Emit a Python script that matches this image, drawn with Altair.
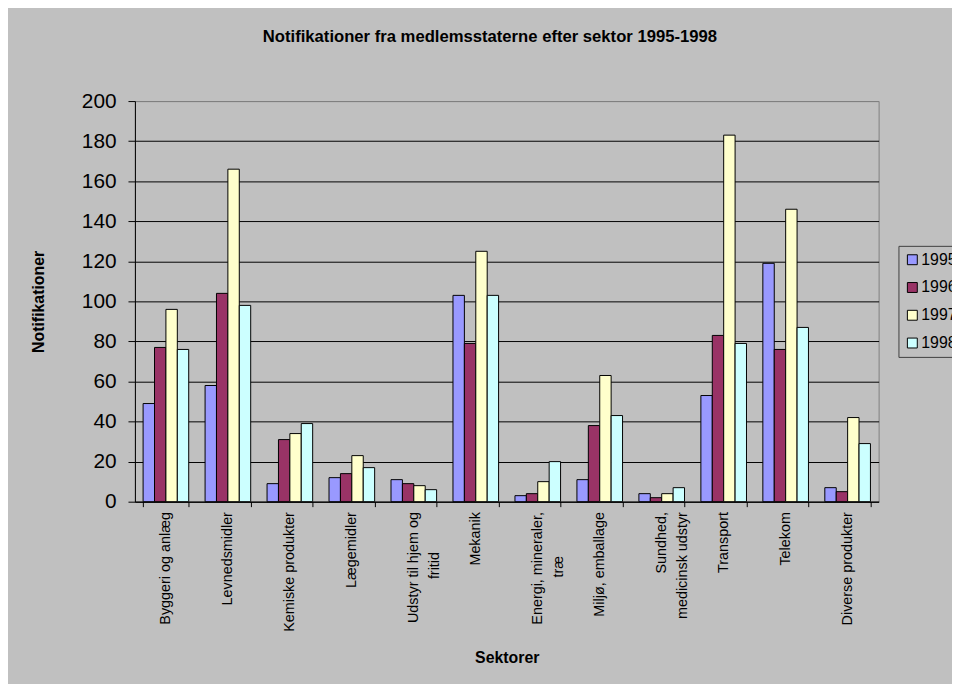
import altair as alt
import pandas as pd

sectors = [
    "Byggeri og anlæg",
    "Levnedsmidler",
    "Kemiske produkter",
    "Lægemidler",
    "Udstyr til hjem og\nfritid",
    "Mekanik",
    "Energi, mineraler,\ntræ",
    "Miljø, emballage",
    "Sundhed,\nmedicinsk udstyr",
    "Transport",
    "Telekom",
    "Diverse produkter",
]
years = ["1995", "1996", "1997", "1998"]
v1995 = [49, 58, 9, 12, 11, 103, 3, 11, 4, 53, 119, 7]
v1996 = [77, 104, 31, 14, 9, 79, 4, 38, 2, 83, 76, 5]
v1997 = [96, 166, 34, 23, 8, 125, 10, 63, 4, 183, 146, 42]
v1998 = [76, 98, 39, 17, 6, 103, 20, 43, 7, 79, 87, 29]
colors = ["#9999FF", "#993366", "#FFFFCC", "#CCFFFF"]

rows = []
for yr, vals in zip(years, [v1995, v1996, v1997, v1998]):
    for s, v in zip(sectors, vals):
        rows.append({"sector": s, "year": yr, "value": v})
df = pd.DataFrame(rows)

FONT = "Liberation Sans, Arial, sans-serif"
NB = "\u00a0"
ZW = "\u200b"

# multi-line labels: second line centred under the first (Excel style)
centred = {
    "fritid": ["Udstyr til hjem og", "fritid" + NB * 10 + ZW],
    "træ": ["Energi, mineraler,", "træ" + NB * 11 + ZW],
}
expr = "split(datum.label, '\\n')"
for key, lines in centred.items():
    arr = "[" + ", ".join("'" + l + "'" for l in lines) + "]"
    expr = f"indexof(datum.label, '{key}') >= 0 ? {arr} : " + expr

chart = (
    alt.Chart(df)
    .mark_bar(stroke="black", strokeWidth=1)
    .encode(
        x=alt.X(
            "sector:N",
            sort=sectors,
            scale=alt.Scale(paddingInner=0.264, paddingOuter=0.132),
            axis=alt.Axis(
                title="Sektorer",
                titleX=375,
                titleY=157,
                titleAlign="center",
                titleBaseline="middle",
                titleFontSize=16,
                titleFontWeight="bold",
                grid=False,
                tickBand="extent",
                tickSize=5,
                labelAngle=270,
                labelAlign="right",
                labelBaseline="middle",
                labelPadding=5,
                labelFontSize=14.5,
                labelLineHeight=21,
                labelLimit=300,
                labelExpr=expr,
            ),
        ),
        xOffset=alt.XOffset(
            "year:N", sort=years, scale=alt.Scale(paddingInner=0, paddingOuter=0)
        ),
        y=alt.Y(
            "value:Q",
            scale=alt.Scale(domain=[0, 200], nice=False),
            axis=alt.Axis(
                title="Notifikationer",
                titleX=-97,
                titleY=202,
                titleAngle=270,
                titleAlign="center",
                titleBaseline="middle",
                titleFontSize=16,
                titleFontWeight="bold",
                values=list(range(0, 201, 20)),
                grid=True,
                gridColor={
                    "condition": {"test": "datum.value >= 200", "value": "#808080"},
                    "value": "black",
                },
                tickSize=7,
                labelPadding=12,
                labelFontSize=21,
            ),
        ),
        color=alt.Color(
            "year:N",
            scale=alt.Scale(domain=years, range=colors),
            legend=alt.Legend(
                title=None,
                orient="none",
                legendX=770,
                legendY=146,
                fillColor="#C0C0C0",
                strokeColor="#404040",
                padding=6,
                rowPadding=12,
                symbolType="square",
                symbolSize=100,
                symbolStrokeColor="black",
                symbolStrokeWidth=1,
                labelFontSize=16,
                labelOffset=1,
                labelColor="black",
                labelFont=FONT,
            ),
        ),
    )
    .properties(
        width=750,
        height=404,
        autosize=alt.AutoSizeParams(type="none"),
        padding={"left": 128, "top": 91, "right": 74, "bottom": 181},
        background="#C0C0C0",
        title=alt.TitleParams(
            "Notifikationer fra medlemsstaterne efter sektor 1995-1998",
            font=FONT,
            fontSize=16.8,
            fontWeight="bold",
            color="black",
            anchor="middle",
            frame="group",
            baseline="bottom",
            dx=-17,
            offset=28,
        ),
    )
    .configure_view(stroke="#808080", strokeWidth=1)
    .configure_axis(
        labelFont=FONT,
        titleFont=FONT,
        labelColor="black",
        titleColor="black",
        domainColor="black",
        tickColor="black",
        domainWidth=1,
        tickWidth=1,
        gridWidth=1,
    )
)

chart.save("out.html", embed_options={"renderer": "svg", "actions": False})
